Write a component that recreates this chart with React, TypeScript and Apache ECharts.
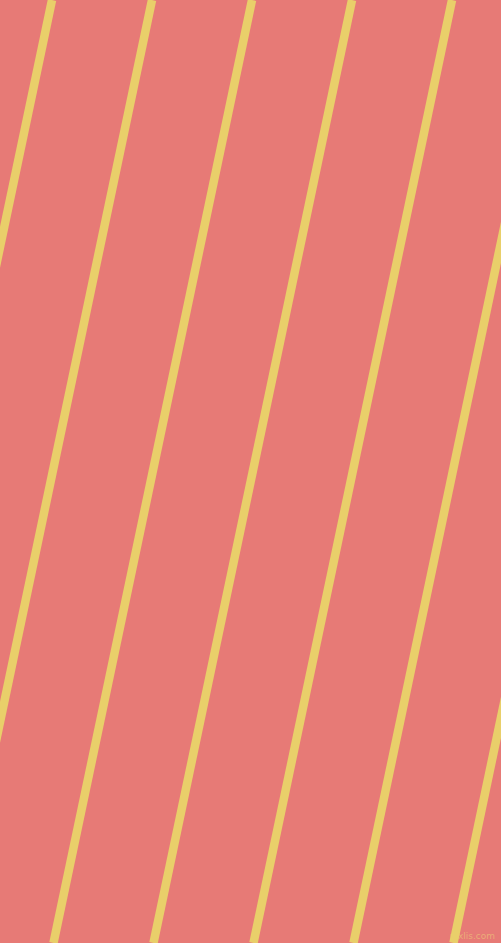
import React, { useEffect, useRef } from "react";
import * as echarts from "echarts";

const WIDTH = 501;
const HEIGHT = 943;
// x position of each stripe's centre at the top edge (y = 0) and at the bottom edge (y = 943)
const stripeTopX = [52, 152, 252, 352, 452, 552, 652];
const stripeBottomX = [-146.5, -46.5, 53.5, 153.5, 253.5, 353.5, 453.5];
const watermark = "pixlis.com";

export default function App() {
  const ref = useRef<HTMLDivElement>(null);
  useEffect(() => {
    if (!ref.current) return;
    const chart = echarts.init(ref.current, undefined, { renderer: "svg" });
    const series = stripeTopX.map((tx, i) => ({
      type: "line",
      data: [
        [tx, 0],
        [stripeBottomX[i], HEIGHT],
      ],
      symbol: "none",
      silent: true,
      lineStyle: { color: "#E9CF6A", width: 8.5 },
      clip: true,
    }));
    chart.setOption({
      animation: false,
      backgroundColor: "#E77A76",
      grid: { left: 0, right: 0, top: 0, bottom: 0 },
      xAxis: { type: "value", min: 0, max: WIDTH, show: false },
      yAxis: { type: "value", min: 0, max: HEIGHT, inverse: true, show: false },
      series,
      graphic: [
        {
          type: "text",
          right: 6,
          bottom: 3,
          style: {
            text: watermark,
            fill: "rgba(236,190,120,0.75)",
            font: "9px 'DejaVu Sans'",
          },
        },
      ],
    });
    return () => chart.dispose();
  }, []);
  return (
    <div
      ref={ref}
      style={{ position: "fixed", left: 0, top: 0, width: WIDTH, height: HEIGHT }}
    />
  );
}
